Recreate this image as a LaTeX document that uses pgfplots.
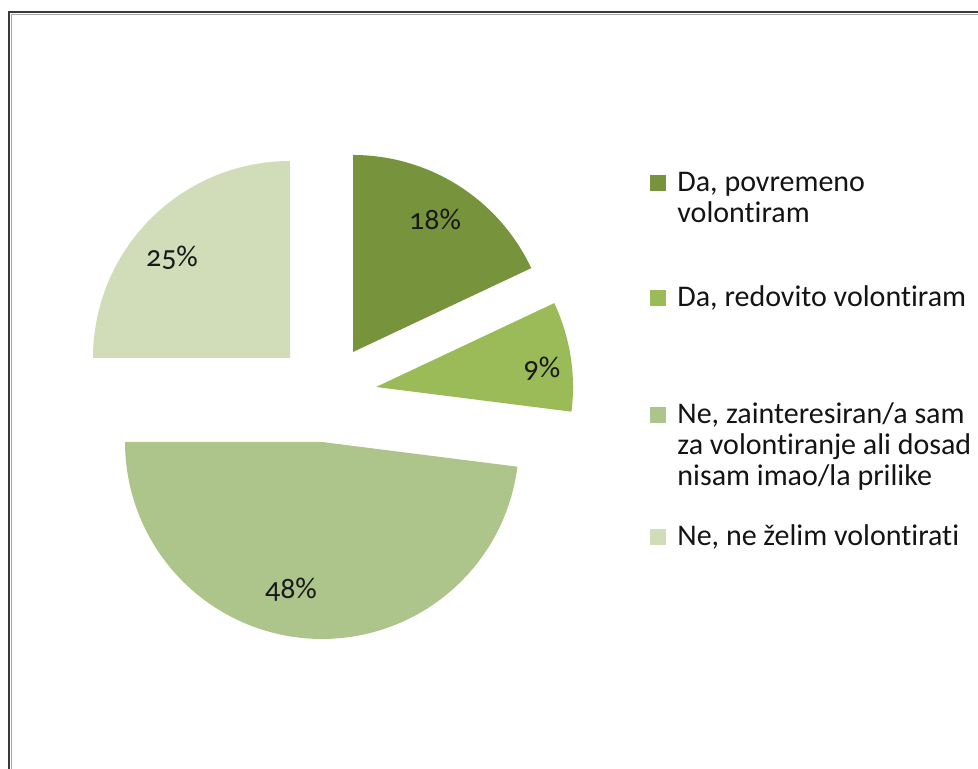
\documentclass[border=0pt]{standalone}
\usepackage{pgfplots}
\pgfplotsset{compat=1.18}
\usepackage{fontspec}
\setmainfont{Carlito}[Ligatures=NoCommon]
\newfontfamily\labfont{Carlito}[Numbers=OldStyle,Ligatures=NoCommon]
\definecolor{cA}{HTML}{77933C}
\definecolor{cB}{HTML}{9BBB59}
\definecolor{cC}{HTML}{ADC58A}
\definecolor{cD}{HTML}{D0DDB8}
\definecolor{frameD}{HTML}{3A3A3A}
\definecolor{frameL}{HTML}{A8A8A8}
% slice values (percent)
\def\vA{18}\def\vB{9}\def\vC{48}\def\vD{25}
\pgfmathsetmacro\aA{90}
\pgfmathsetmacro\aB{90-3.6*\vA}
\pgfmathsetmacro\aC{\aB-3.6*\vB}
\pgfmathsetmacro\aD{\aC-3.6*\vC}
\pgfmathsetmacro\aE{\aD-3.6*\vD}
\def\R{197}
\newcommand\lines[1]{\begin{tabular}[t]{@{}l@{}}#1\end{tabular}}
\begin{document}
\begin{tikzpicture}
\begin{axis}[x=0.5pt,y=0.5pt,xmin=0,xmax=978,ymin=-769,ymax=0,
  hide axis,clip=false,samples=90,variable=\t]
% frame (left and top edges visible)
\addplot[frameL,line width=0.5pt] coordinates {(11,-769) (11,-15) (978,-15)};
\addplot[frameD,line width=1pt] coordinates {(8.5,-769) (8.5,-12.5) (978,-12.5)};
% slices, each with its own exploded centre
\addplot[fill=cA,draw=none,domain=\aB:\aA] ({353+\R*cos(\t)},{-352+\R*sin(\t)}) -- (axis cs:353,-352) -- cycle;
\addplot[fill=cB,draw=none,domain=\aC:\aB] ({376+\R*cos(\t)},{-387+\R*sin(\t)}) -- (axis cs:376,-387) -- cycle;
\addplot[fill=cC,draw=none,domain=\aD:\aC] ({322+\R*cos(\t)},{-442+\R*sin(\t)}) -- (axis cs:322,-442) -- cycle;
\addplot[fill=cD,draw=none,domain=\aE:\aD] ({290+\R*cos(\t)},{-358+\R*sin(\t)}) -- (axis cs:290,-358) -- cycle;
% data labels
\begin{scope}[every node/.style={font=\labfont\fontsize{15}{18}\selectfont,text=black!90}]
\node at (axis cs:435,-219) {18\%};
\node at (axis cs:542,-369) {9\%};
\node at (axis cs:291,-590) {48\%};
\node at (axis cs:172,-258) {25\%};
\end{scope}
% legend
\fill[cA] (axis cs:650,-175) rectangle (axis cs:666,-191);
\fill[cB] (axis cs:650,-290) rectangle (axis cs:666,-306);
\fill[cC] (axis cs:650,-407) rectangle (axis cs:666,-423);
\fill[cD] (axis cs:650,-529) rectangle (axis cs:666,-545);
\begin{scope}[every node/.style={anchor=base west,inner sep=0pt,
   font=\fontsize{15}{15.5}\selectfont,text=black!92}]
\node at (axis cs:677,-192) {\lines{Da, povremeno\\volontiram}};
\node at (axis cs:677,-307) {Da, redovito volontiram};
\node at (axis cs:677,-424) {\lines{Ne, zainteresiran/a sam\\za volontiranje ali dosad\\nisam imao/la prilike}};
\node at (axis cs:677,-546) {Ne, ne želim volontirati};
\end{scope}
\coordinate (bbA) at (axis cs:0,-769);
\coordinate (bbB) at (axis cs:978,0);
\end{axis}
\pgfresetboundingbox
\path (bbA) rectangle (bbB);
\end{tikzpicture}
\end{document}
